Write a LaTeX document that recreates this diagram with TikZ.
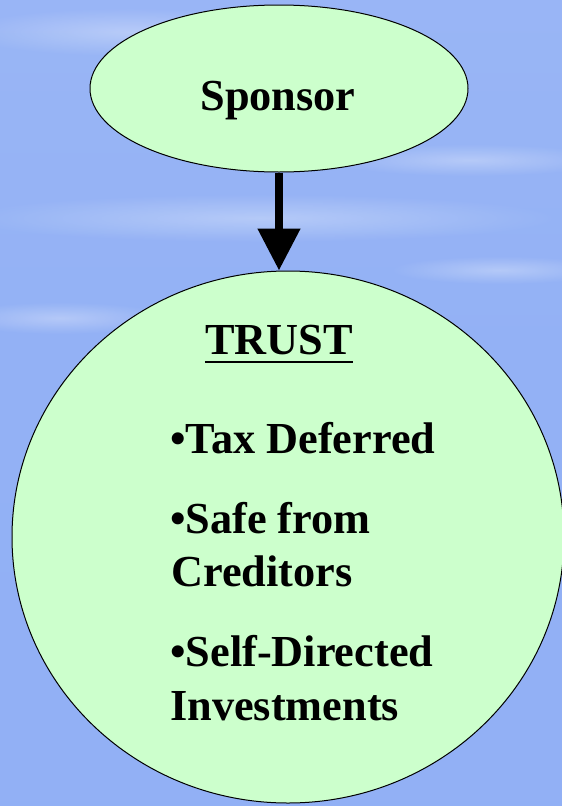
\documentclass[tikz,border=0pt]{standalone}
\usepackage{fontspec}
\setmainfont{Liberation Serif}
\usetikzlibrary{shapes.geometric,arrows.meta,fadings}
\definecolor{nodegreen}{HTML}{CCFFCC}
\definecolor{skyA}{HTML}{7DA2F7}
\definecolor{skyB}{HTML}{93B1F5}
\definecolor{skyC}{HTML}{A9C1F7}
\definecolor{skyD}{HTML}{A0BAF5}
\definecolor{skyE}{HTML}{BCD0F9}
\definecolor{skyF}{HTML}{A2BCF5}
\definecolor{skyG}{HTML}{9CB7F4}
\definecolor{skyH}{HTML}{B0C7F7}
\definecolor{skyI}{HTML}{A6BFF5}
\pgfdeclareverticalshading{sky}{100bp}{color(0bp)=(skyA); color(406bp)=(skyB); color(486bp)=(skyC); color(526bp)=(skyD); color(586bp)=(skyE); color(646bp)=(skyF); color(706bp)=(skyG); color(766bp)=(skyH); color(806bp)=(skyI)}
\tikzfading[name=softglow, inner color=transparent!0, outer color=transparent!100]
\begin{document}
\begin{tikzpicture}[x=1pt,y=-1pt,
  bubble/.style={ellipse, draw=black, line width=1pt, fill=nodegreen, inner sep=0pt},
  txt/.style={inner sep=0pt, font=\fontsize{44.3}{53}\selectfont\bfseries},
  flow/.style={line width=8pt, -{Triangle[width=41pt,length=42pt]}},
  streak/.style={white, opacity=0.3, path fading=softglow, fit fading=true}]
\useasboundingbox (0,0) rectangle (562,806);
\shade[shading=sky] (0,0) rectangle (562,806);
\fill[streak] (130,32) ellipse [x radius=170, y radius=24];
\fill[streak] (470,160) ellipse [x radius=140, y radius=16];
\fill[streak] (260,218) ellipse [x radius=300, y radius=24];
\fill[streak] (60,318) ellipse [x radius=110, y radius=16];
\fill[streak] (500,270) ellipse [x radius=110, y radius=14];
\node[bubble, minimum width=378pt, minimum height=167pt] (sponsor) at (279,88.5) {};
\node[bubble, minimum width=552pt, minimum height=532pt] (trust) at (288,537) {};
\node[txt, anchor=base] (sponsorlabel) at (278,110) {Sponsor};
\node[txt, anchor=base] (trusttitle) at (279,354) {TRUST};
\draw[line width=2.5pt] ([yshift=-8pt]trusttitle.base west) -- ([yshift=-8pt]trusttitle.base east);
\node[txt, anchor=base west] (item1) at (170,453) {•Tax Deferred};
\node[txt, anchor=base west] (item2a) at (170,533) {•Safe from};
\node[txt, anchor=base west] (item2b) at (171,586) {Creditors};
\node[txt, anchor=base west] (item3a) at (170,666) {•Self-Directed};
\node[txt, anchor=base west] (item3b) at (170,720) {Investments};
\draw[flow] (sponsor.south) -- (sponsor.south |- trust.north);
\end{tikzpicture}
\end{document}
